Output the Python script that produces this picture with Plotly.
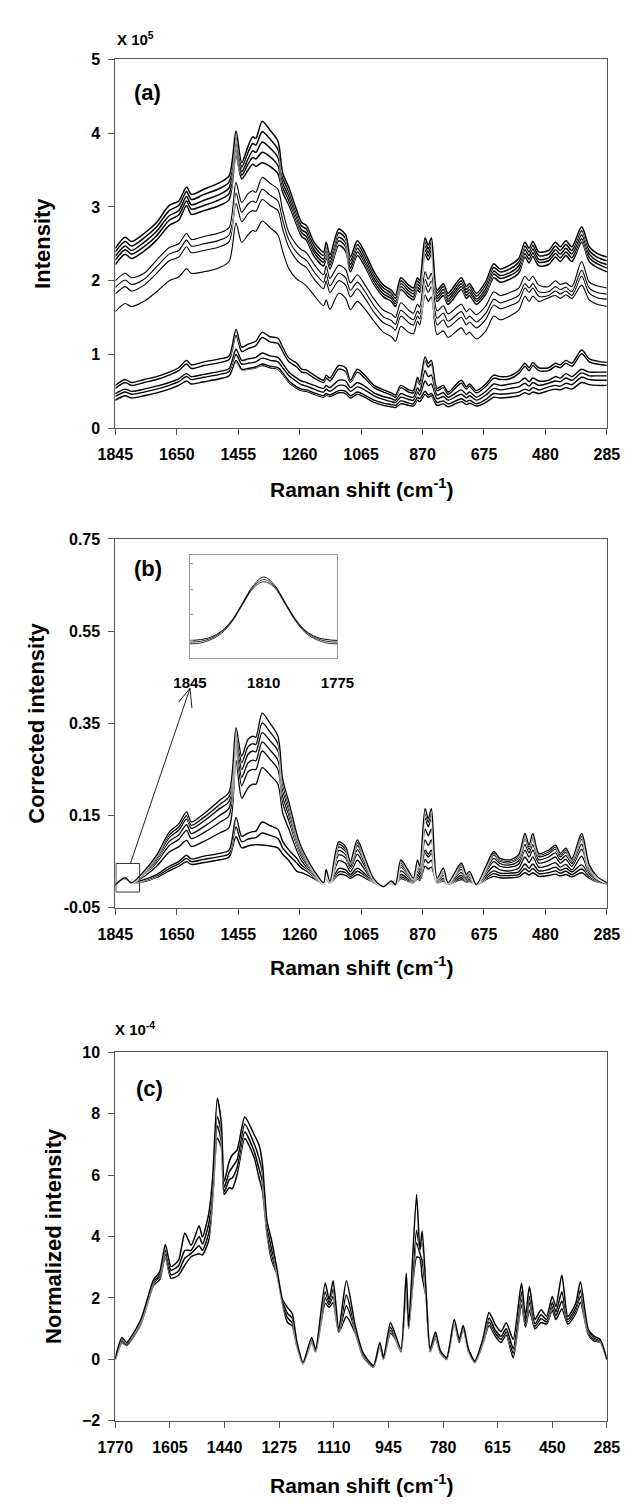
import plotly.graph_objects as go

# ---------------- DATA ----------------
# Panel (a) and (b): Raman shift grid (cm-1)
wn_ab = [1845, 1814, 1794, 1754, 1714, 1674, 1644, 1619, 1604, 1564,
         1514, 1484, 1462, 1444, 1424, 1409, 1399, 1379, 1354, 1329,
         1314, 1294, 1269, 1254, 1239, 1214, 1184, 1176, 1164, 1136,
         1114, 1099, 1077, 1054, 1024, 994, 969, 956, 939, 914,
         899, 886, 879, 862, 852, 842, 824, 804, 789, 747,
         731, 721, 699, 669, 644, 624, 593, 565, 545, 532,
         520, 501, 470, 448, 433, 415, 396, 365, 341, 316,
         285]

# Panel (a) raw intensity (x 10^5)
a_band_1 = [2.44, 2.59, 2.53, 2.64, 2.79, 3.02, 3.08, 3.27, 3.17, 3.24,
            3.33, 3.42, 4.03, 3.60, 3.82, 3.95, 3.93, 4.16, 4.04, 3.89,
            3.46, 3.26, 2.95, 2.79, 2.75, 2.52, 2.39, 2.52, 2.35, 2.70,
            2.62, 2.32, 2.54, 2.39, 2.12, 1.94, 1.87, 1.80, 2.04, 1.94,
            1.90, 2.04, 2.00, 2.58, 2.48, 2.58, 1.87, 1.96, 1.83, 2.04,
            1.92, 1.96, 1.83, 1.99, 2.23, 2.16, 2.21, 2.30, 2.52, 2.44,
            2.53, 2.39, 2.41, 2.52, 2.46, 2.54, 2.46, 2.73, 2.46, 2.37,
            2.32]
a_band_2 = [2.39, 2.53, 2.47, 2.58, 2.73, 2.95, 3.02, 3.21, 3.10, 3.17,
            3.25, 3.34, 3.95, 3.54, 3.74, 3.86, 3.84, 4.02, 3.92, 3.78,
            3.40, 3.20, 2.90, 2.74, 2.70, 2.47, 2.34, 2.47, 2.30, 2.65,
            2.57, 2.27, 2.49, 2.34, 2.08, 1.90, 1.83, 1.76, 2.00, 1.90,
            1.86, 2.00, 1.96, 2.53, 2.43, 2.53, 1.83, 1.92, 1.79, 2.00,
            1.88, 1.92, 1.79, 1.95, 2.18, 2.12, 2.16, 2.25, 2.47, 2.39,
            2.48, 2.34, 2.36, 2.47, 2.41, 2.49, 2.41, 2.68, 2.41, 2.32,
            2.27]
a_band_3 = [2.33, 2.47, 2.41, 2.52, 2.67, 2.88, 2.95, 3.14, 3.03, 3.09,
            3.17, 3.26, 3.86, 3.48, 3.65, 3.76, 3.74, 3.88, 3.80, 3.67,
            3.33, 3.14, 2.85, 2.69, 2.65, 2.42, 2.29, 2.42, 2.25, 2.59,
            2.51, 2.22, 2.44, 2.29, 2.03, 1.86, 1.79, 1.72, 1.96, 1.86,
            1.82, 1.96, 1.92, 2.47, 2.38, 2.47, 1.79, 1.88, 1.75, 1.96,
            1.84, 1.88, 1.75, 1.90, 2.13, 2.07, 2.11, 2.20, 2.42, 2.34,
            2.43, 2.29, 2.31, 2.42, 2.36, 2.44, 2.36, 2.62, 2.36, 2.27,
            2.22]
a_band_4 = [2.28, 2.42, 2.36, 2.46, 2.61, 2.82, 2.89, 3.08, 2.97, 3.02,
            3.10, 3.18, 3.78, 3.43, 3.58, 3.67, 3.65, 3.74, 3.68, 3.56,
            3.27, 3.08, 2.80, 2.65, 2.60, 2.38, 2.25, 2.38, 2.21, 2.54,
            2.46, 2.17, 2.39, 2.25, 1.99, 1.82, 1.76, 1.69, 1.92, 1.82,
            1.78, 1.92, 1.88, 2.42, 2.33, 2.42, 1.76, 1.84, 1.72, 1.92,
            1.80, 1.84, 1.72, 1.86, 2.09, 2.03, 2.07, 2.15, 2.37, 2.29,
            2.38, 2.25, 2.27, 2.37, 2.31, 2.39, 2.31, 2.57, 2.31, 2.23,
            2.17]
a_band_5 = [2.22, 2.36, 2.30, 2.40, 2.55, 2.75, 2.82, 3.02, 2.90, 2.95,
            3.02, 3.10, 3.70, 3.38, 3.50, 3.58, 3.55, 3.60, 3.55, 3.45,
            3.20, 3.02, 2.75, 2.60, 2.55, 2.33, 2.20, 2.33, 2.16, 2.48,
            2.40, 2.12, 2.34, 2.20, 1.95, 1.78, 1.72, 1.65, 1.88, 1.78,
            1.74, 1.88, 1.84, 2.36, 2.28, 2.36, 1.72, 1.80, 1.68, 1.88,
            1.76, 1.80, 1.68, 1.82, 2.04, 1.98, 2.02, 2.10, 2.32, 2.24,
            2.33, 2.20, 2.22, 2.32, 2.26, 2.34, 2.26, 2.52, 2.26, 2.18,
            2.12]
a_thin_1 = [2.00, 2.10, 2.04, 2.10, 2.28, 2.45, 2.50, 2.64, 2.56, 2.60,
            2.65, 2.72, 3.33, 3.06, 3.18, 3.22, 3.20, 3.40, 3.32, 3.24,
            2.95, 2.65, 2.48, 2.42, 2.38, 2.22, 2.08, 2.20, 2.03, 2.21,
            2.15, 1.97, 2.08, 1.95, 1.75, 1.60, 1.55, 1.50, 1.70, 1.60,
            1.56, 1.68, 1.64, 2.12, 2.02, 2.10, 1.59, 1.66, 1.55, 1.68,
            1.58, 1.62, 1.54, 1.66, 1.85, 1.80, 1.84, 1.90, 2.06, 2.00,
            2.06, 1.94, 1.92, 2.00, 1.95, 1.97, 1.92, 2.26, 1.98, 1.93,
            1.90]
a_thin_2 = [1.91, 2.01, 1.95, 2.02, 2.19, 2.36, 2.41, 2.55, 2.47, 2.50,
            2.55, 2.62, 3.19, 2.93, 3.04, 3.08, 3.06, 3.24, 3.16, 3.08,
            2.82, 2.55, 2.38, 2.32, 2.28, 2.12, 1.98, 2.10, 1.93, 2.10,
            2.04, 1.87, 1.98, 1.86, 1.66, 1.51, 1.46, 1.41, 1.60, 1.51,
            1.47, 1.59, 1.55, 2.02, 1.92, 2.00, 1.49, 1.56, 1.45, 1.58,
            1.48, 1.52, 1.44, 1.56, 1.75, 1.70, 1.74, 1.80, 1.96, 1.90,
            1.96, 1.85, 1.85, 1.92, 1.88, 1.91, 1.85, 2.14, 1.90, 1.84,
            1.82]
a_thin_3 = [1.82, 1.92, 1.86, 1.94, 2.10, 2.27, 2.32, 2.46, 2.38, 2.41,
            2.46, 2.53, 3.05, 2.80, 2.91, 2.95, 2.94, 3.10, 3.02, 2.95,
            2.70, 2.45, 2.28, 2.22, 2.18, 2.02, 1.89, 2.00, 1.84, 2.00,
            1.94, 1.78, 1.89, 1.77, 1.57, 1.43, 1.38, 1.33, 1.52, 1.43,
            1.40, 1.52, 1.48, 1.93, 1.84, 1.92, 1.40, 1.47, 1.37, 1.50,
            1.40, 1.44, 1.36, 1.48, 1.67, 1.62, 1.66, 1.72, 1.90, 1.84,
            1.90, 1.79, 1.80, 1.86, 1.82, 1.86, 1.80, 2.06, 1.83, 1.77,
            1.75]
a_thin_4 = [1.58, 1.69, 1.65, 1.72, 1.85, 2.00, 2.05, 2.16, 2.10, 2.12,
            2.18, 2.26, 2.78, 2.52, 2.62, 2.68, 2.67, 2.81, 2.72, 2.62,
            2.40, 2.16, 2.02, 1.98, 1.93, 1.80, 1.66, 1.74, 1.61, 1.83,
            1.76, 1.61, 1.72, 1.62, 1.45, 1.30, 1.24, 1.18, 1.38, 1.30,
            1.28, 1.45, 1.40, 1.81, 1.72, 1.78, 1.27, 1.32, 1.23, 1.36,
            1.27, 1.30, 1.21, 1.32, 1.52, 1.47, 1.52, 1.60, 1.79, 1.72,
            1.79, 1.72, 1.77, 1.80, 1.76, 1.81, 1.76, 1.94, 1.74, 1.68,
            1.65]
a_low_1 = [0.58, 0.66, 0.62, 0.66, 0.70, 0.76, 0.82, 0.92, 0.86, 0.90,
           0.94, 0.98, 1.34, 1.10, 1.14, 1.16, 1.18, 1.30, 1.24, 1.22,
           1.10, 0.95, 0.88, 0.80, 0.79, 0.72, 0.65, 0.72, 0.68, 0.85,
           0.82, 0.65, 0.80, 0.72, 0.58, 0.52, 0.48, 0.45, 0.58, 0.52,
           0.51, 0.69, 0.62, 0.97, 0.88, 0.92, 0.54, 0.58, 0.49, 0.65,
           0.56, 0.60, 0.51, 0.60, 0.72, 0.70, 0.71, 0.78, 0.88, 0.82,
           0.89, 0.82, 0.82, 0.88, 0.86, 0.92, 0.88, 1.06, 0.94, 0.91,
           0.89]
a_low_2 = [0.54, 0.62, 0.58, 0.62, 0.66, 0.72, 0.78, 0.87, 0.81, 0.85,
           0.89, 0.93, 1.26, 1.04, 1.08, 1.10, 1.12, 1.23, 1.17, 1.15,
           1.04, 0.90, 0.83, 0.76, 0.75, 0.68, 0.62, 0.68, 0.64, 0.80,
           0.77, 0.62, 0.76, 0.68, 0.55, 0.49, 0.45, 0.42, 0.55, 0.49,
           0.48, 0.65, 0.59, 0.92, 0.83, 0.87, 0.51, 0.55, 0.46, 0.61,
           0.53, 0.57, 0.48, 0.57, 0.68, 0.66, 0.67, 0.74, 0.84, 0.78,
           0.85, 0.78, 0.78, 0.84, 0.82, 0.88, 0.84, 1.01, 0.90, 0.87,
           0.85]
a_low_3 = [0.47, 0.53, 0.50, 0.53, 0.57, 0.62, 0.67, 0.74, 0.70, 0.73,
           0.77, 0.81, 1.07, 0.92, 0.94, 0.95, 0.96, 1.02, 0.98, 0.96,
           0.88, 0.76, 0.68, 0.64, 0.62, 0.58, 0.54, 0.58, 0.55, 0.65,
           0.64, 0.55, 0.62, 0.57, 0.48, 0.43, 0.40, 0.38, 0.47, 0.43,
           0.42, 0.55, 0.50, 0.78, 0.70, 0.72, 0.45, 0.48, 0.42, 0.52,
           0.46, 0.49, 0.42, 0.50, 0.60, 0.58, 0.60, 0.62, 0.68, 0.63,
           0.68, 0.64, 0.65, 0.70, 0.68, 0.74, 0.70, 0.80, 0.76, 0.76,
           0.76]
a_low_4 = [0.43, 0.49, 0.46, 0.49, 0.53, 0.58, 0.63, 0.70, 0.66, 0.69,
           0.73, 0.77, 1.00, 0.87, 0.88, 0.89, 0.90, 0.95, 0.92, 0.90,
           0.82, 0.71, 0.63, 0.59, 0.57, 0.53, 0.49, 0.53, 0.50, 0.58,
           0.57, 0.50, 0.56, 0.52, 0.44, 0.39, 0.36, 0.35, 0.42, 0.39,
           0.38, 0.49, 0.45, 0.64, 0.58, 0.60, 0.40, 0.43, 0.38, 0.46,
           0.41, 0.44, 0.38, 0.45, 0.54, 0.52, 0.54, 0.56, 0.61, 0.57,
           0.62, 0.58, 0.61, 0.64, 0.63, 0.68, 0.65, 0.75, 0.71, 0.71,
           0.71]
a_low_5 = [0.38, 0.44, 0.41, 0.44, 0.48, 0.53, 0.58, 0.64, 0.60, 0.63,
           0.67, 0.71, 0.92, 0.80, 0.81, 0.82, 0.83, 0.87, 0.84, 0.82,
           0.75, 0.64, 0.56, 0.53, 0.52, 0.48, 0.44, 0.47, 0.45, 0.51,
           0.50, 0.44, 0.49, 0.45, 0.38, 0.34, 0.32, 0.31, 0.37, 0.34,
           0.33, 0.42, 0.40, 0.50, 0.45, 0.47, 0.35, 0.37, 0.33, 0.40,
           0.36, 0.38, 0.33, 0.39, 0.47, 0.46, 0.47, 0.49, 0.53, 0.51,
           0.55, 0.52, 0.56, 0.58, 0.57, 0.61, 0.59, 0.69, 0.66, 0.65,
           0.65]
a_low_6 = [0.38, 0.44, 0.41, 0.44, 0.48, 0.53, 0.58, 0.64, 0.60, 0.63,
           0.67, 0.71, 0.90, 0.79, 0.80, 0.81, 0.82, 0.85, 0.82, 0.80,
           0.73, 0.62, 0.54, 0.51, 0.50, 0.46, 0.42, 0.45, 0.43, 0.48,
           0.47, 0.41, 0.46, 0.42, 0.35, 0.31, 0.29, 0.28, 0.33, 0.31,
           0.30, 0.38, 0.36, 0.46, 0.42, 0.44, 0.31, 0.33, 0.29, 0.36,
           0.32, 0.34, 0.30, 0.35, 0.42, 0.41, 0.42, 0.44, 0.48, 0.46,
           0.49, 0.47, 0.51, 0.53, 0.52, 0.55, 0.53, 0.62, 0.59, 0.58,
           0.58]

# Panel (b) baseline-corrected intensity
b_up_1 = [0.000, 0.015, 0.004, 0.029, 0.064, 0.114, 0.132, 0.158, 0.136, 0.154,
          0.183, 0.201, 0.340, 0.279, 0.315, 0.322, 0.320, 0.372, 0.350, 0.322,
          0.229, 0.179, 0.110, 0.080, 0.060, 0.030, 0.004, 0.033, 0.007, 0.093,
          0.082, 0.050, 0.097, 0.060, 0.012, -0.004, 0.008, 0.000, 0.054, 0.029,
          0.014, 0.054, 0.040, 0.165, 0.143, 0.165, 0.014, 0.036, 0.004, 0.047,
          0.022, 0.029, 0.000, 0.040, 0.072, 0.057, 0.054, 0.065, 0.111, 0.086,
          0.111, 0.068, 0.075, 0.086, 0.068, 0.079, 0.057, 0.111, 0.043, 0.018,
          0.004]
b_up_2 = [0.000, 0.015, 0.004, 0.028, 0.061, 0.108, 0.125, 0.150, 0.129, 0.146,
          0.174, 0.191, 0.329, 0.265, 0.299, 0.306, 0.304, 0.351, 0.331, 0.306,
          0.218, 0.170, 0.105, 0.076, 0.057, 0.029, 0.004, 0.032, 0.007, 0.088,
          0.077, 0.048, 0.091, 0.057, 0.012, -0.004, 0.008, 0.000, 0.051, 0.028,
          0.014, 0.051, 0.038, 0.155, 0.135, 0.155, 0.014, 0.034, 0.004, 0.045,
          0.021, 0.028, 0.000, 0.038, 0.068, 0.054, 0.051, 0.062, 0.105, 0.082,
          0.105, 0.065, 0.071, 0.082, 0.065, 0.075, 0.054, 0.105, 0.041, 0.017,
          0.004]
b_up_3 = [0.000, 0.015, 0.004, 0.026, 0.057, 0.102, 0.118, 0.142, 0.122, 0.138,
          0.165, 0.181, 0.318, 0.250, 0.283, 0.290, 0.288, 0.330, 0.312, 0.290,
          0.206, 0.161, 0.099, 0.072, 0.054, 0.027, 0.004, 0.030, 0.007, 0.082,
          0.072, 0.045, 0.085, 0.054, 0.011, -0.004, 0.007, 0.000, 0.048, 0.026,
          0.013, 0.048, 0.036, 0.145, 0.126, 0.145, 0.013, 0.032, 0.004, 0.042,
          0.020, 0.026, 0.000, 0.036, 0.064, 0.051, 0.048, 0.058, 0.099, 0.077,
          0.099, 0.061, 0.067, 0.077, 0.061, 0.070, 0.051, 0.099, 0.038, 0.016,
          0.004]
b_up_4 = [0.000, 0.015, 0.004, 0.024, 0.053, 0.094, 0.108, 0.130, 0.111, 0.126,
          0.150, 0.166, 0.307, 0.233, 0.264, 0.270, 0.269, 0.310, 0.292, 0.270,
          0.192, 0.150, 0.092, 0.066, 0.050, 0.025, 0.004, 0.027, 0.006, 0.074,
          0.065, 0.040, 0.076, 0.048, 0.010, -0.004, 0.007, 0.000, 0.043, 0.023,
          0.012, 0.043, 0.032, 0.121, 0.106, 0.121, 0.012, 0.029, 0.004, 0.038,
          0.018, 0.023, 0.000, 0.032, 0.057, 0.046, 0.043, 0.052, 0.087, 0.069,
          0.087, 0.054, 0.060, 0.069, 0.054, 0.063, 0.046, 0.088, 0.034, 0.015,
          0.004]
b_up_5 = [0.000, 0.014, 0.004, 0.022, 0.048, 0.085, 0.098, 0.118, 0.100, 0.113,
          0.135, 0.150, 0.295, 0.215, 0.245, 0.250, 0.250, 0.290, 0.272, 0.250,
          0.178, 0.138, 0.085, 0.060, 0.045, 0.022, 0.003, 0.024, 0.005, 0.065,
          0.058, 0.035, 0.066, 0.041, 0.008, -0.003, 0.006, 0.000, 0.038, 0.020,
          0.010, 0.038, 0.028, 0.097, 0.085, 0.097, 0.010, 0.025, 0.003, 0.033,
          0.015, 0.020, 0.000, 0.028, 0.050, 0.040, 0.038, 0.045, 0.075, 0.060,
          0.075, 0.047, 0.052, 0.060, 0.047, 0.055, 0.040, 0.077, 0.030, 0.013,
          0.003]
b_up_6 = [0.000, 0.014, 0.004, 0.018, 0.040, 0.071, 0.082, 0.096, 0.083, 0.094,
          0.112, 0.124, 0.270, 0.188, 0.210, 0.218, 0.218, 0.254, 0.238, 0.218,
          0.156, 0.120, 0.074, 0.052, 0.039, 0.019, 0.003, 0.021, 0.004, 0.052,
          0.046, 0.028, 0.053, 0.033, 0.006, -0.003, 0.005, 0.000, 0.030, 0.016,
          0.008, 0.030, 0.022, 0.075, 0.066, 0.075, 0.008, 0.020, 0.002, 0.026,
          0.012, 0.016, 0.000, 0.022, 0.040, 0.032, 0.030, 0.036, 0.060, 0.048,
          0.060, 0.038, 0.042, 0.048, 0.038, 0.044, 0.032, 0.062, 0.024, 0.010,
          0.002]
b_low_1 = [0.000, 0.014, 0.004, 0.011, 0.022, 0.040, 0.050, 0.064, 0.056, 0.062,
           0.068, 0.075, 0.146, 0.105, 0.112, 0.115, 0.116, 0.136, 0.128, 0.120,
           0.094, 0.075, 0.057, 0.042, 0.035, 0.020, 0.003, 0.018, 0.004, 0.035,
           0.032, 0.022, 0.036, 0.024, 0.006, -0.004, 0.004, 0.000, 0.022, 0.012,
           0.006, 0.022, 0.016, 0.070, 0.060, 0.068, 0.006, 0.014, 0.002, 0.020,
           0.010, 0.012, 0.000, 0.018, 0.030, 0.025, 0.025, 0.028, 0.045, 0.036,
           0.045, 0.030, 0.033, 0.038, 0.031, 0.036, 0.028, 0.043, 0.022, 0.010,
           0.002]
b_low_2 = [0.000, 0.014, 0.004, 0.009, 0.019, 0.035, 0.045, 0.057, 0.050, 0.055,
           0.061, 0.067, 0.125, 0.093, 0.099, 0.101, 0.102, 0.112, 0.107, 0.100,
           0.080, 0.064, 0.047, 0.036, 0.030, 0.017, 0.002, 0.015, 0.003, 0.028,
           0.026, 0.018, 0.029, 0.020, 0.005, -0.004, 0.003, 0.000, 0.017, 0.009,
           0.005, 0.017, 0.012, 0.055, 0.047, 0.053, 0.005, 0.011, 0.001, 0.015,
           0.008, 0.009, 0.000, 0.014, 0.024, 0.020, 0.020, 0.022, 0.035, 0.028,
           0.035, 0.024, 0.026, 0.030, 0.025, 0.029, 0.022, 0.034, 0.018, 0.008,
           0.002]
b_low_3 = [0.000, 0.014, 0.004, 0.007, 0.016, 0.030, 0.040, 0.050, 0.044, 0.048,
           0.054, 0.060, 0.104, 0.080, 0.084, 0.086, 0.087, 0.086, 0.084, 0.080,
           0.066, 0.052, 0.029, 0.026, 0.022, 0.013, 0.002, 0.012, 0.003, 0.022,
           0.020, 0.014, 0.022, 0.015, 0.004, -0.004, 0.003, 0.000, 0.013, 0.007,
           0.004, 0.013, 0.009, 0.040, 0.034, 0.038, 0.004, 0.008, 0.001, 0.011,
           0.006, 0.007, 0.000, 0.011, 0.018, 0.015, 0.015, 0.017, 0.026, 0.021,
           0.026, 0.018, 0.020, 0.023, 0.019, 0.022, 0.017, 0.026, 0.014, 0.006,
           0.002]

# Inset of panel (b): 1845-1775 cm-1
wn_inset = [1845, 1840, 1835, 1830, 1825, 1820, 1815, 1810, 1805, 1800, 1795, 1790, 1785, 1780, 1775]
inset_1 = [0.0000, 0.0002, 0.0008, 0.0022, 0.0048, 0.0088, 0.0128, 0.0148, 0.0130, 0.0090, 0.0050, 0.0022, 0.0008, 0.0002, 0.0000]
inset_2 = [-0.0004, -0.0002, 0.0005, 0.0020, 0.0046, 0.0086, 0.0125, 0.0142, 0.0127, 0.0088, 0.0048, 0.0020, 0.0005, -0.0002, -0.0004]
inset_3 = [-0.0008, -0.0006, 0.0002, 0.0017, 0.0044, 0.0084, 0.0122, 0.0137, 0.0124, 0.0086, 0.0046, 0.0017, 0.0002, -0.0006, -0.0008]

# Panel (c) normalized intensity (x 10^-4)
wn_c = [1770, 1750, 1736, 1693, 1655, 1636, 1619, 1602, 1579, 1560,
        1541, 1517, 1507, 1488, 1476, 1462, 1450, 1441, 1426, 1417,
        1402, 1379, 1350, 1336, 1326, 1312, 1298, 1283, 1265, 1250,
        1236, 1222, 1203, 1177, 1165, 1136, 1124, 1112, 1095, 1072,
        1045, 1022, 990, 971, 960, 939, 926, 907, 891, 884,
        860, 850, 843, 831, 819, 803, 788, 769, 746, 731,
        719, 703, 684, 660, 641, 622, 605, 589, 568, 543,
        531, 519, 502, 484, 467, 450, 439, 421, 403, 379,
        365, 341, 323, 305, 285]
c_1 = [0.05, 0.71, 0.55, 1.30, 2.58, 2.85, 3.74, 3.02, 3.23, 4.11,
       3.71, 4.35, 3.98, 4.73, 5.91, 8.50, 7.70, 5.80, 6.44, 6.65,
       6.82, 7.89, 7.30, 6.98, 6.40, 4.51, 3.87, 3.02, 1.95, 1.69,
       1.50, 0.60, -0.10, 0.71, 0.33, 2.49, 1.94, 2.56, 0.98, 2.56,
       1.08, 0.22, -0.20, 0.55, 0.06, 1.19, 0.87, 0.33, 2.80, 1.08,
       5.37, 3.55, 4.19, 2.16, 0.33, 0.89, 0.28, 0.06, 1.30, 0.65,
       1.10, 0.33, -0.05, 0.65, 1.53, 1.13, 0.90, 1.19, 0.65, 2.48,
       1.40, 2.37, 1.30, 1.62, 1.40, 2.05, 1.72, 2.75, 1.40, 1.83,
       2.53, 0.97, 0.75, 0.65, 0.00]
c_2 = [0.03, 0.66, 0.52, 1.25, 2.52, 2.78, 3.55, 2.90, 3.05, 3.55,
       3.55, 4.00, 3.75, 4.40, 5.60, 7.90, 7.40, 5.60, 6.10, 6.25,
       6.50, 7.65, 7.00, 6.55, 6.10, 4.35, 3.60, 2.95, 1.90, 1.50,
       1.35, 0.55, -0.12, 0.65, 0.30, 2.20, 1.85, 2.30, 0.94, 2.10,
       0.98, 0.17, -0.22, 0.50, 0.03, 1.05, 0.80, 0.30, 2.70, 1.05,
       4.20, 3.60, 3.80, 2.10, 0.30, 0.80, 0.25, 0.03, 1.22, 0.60,
       1.05, 0.30, -0.07, 0.58, 1.35, 0.95, 0.75, 1.00, 0.35, 2.20,
       1.25, 2.05, 1.15, 1.45, 1.30, 1.85, 1.55, 2.20, 1.30, 1.70,
       2.25, 0.90, 0.70, 0.60, 0.00]
c_3 = [0.02, 0.60, 0.48, 1.20, 2.46, 2.70, 3.45, 2.75, 2.88, 3.30,
       3.45, 3.70, 3.55, 4.10, 5.40, 7.60, 7.10, 5.45, 5.85, 5.90,
       6.25, 7.40, 6.75, 6.20, 5.80, 4.20, 3.40, 2.88, 1.85, 1.35,
       1.20, 0.50, -0.13, 0.60, 0.28, 2.00, 1.78, 2.05, 0.90, 1.75,
       0.92, 0.13, -0.23, 0.48, 0.02, 0.95, 0.75, 0.28, 2.60, 1.02,
       3.80, 3.45, 3.20, 2.05, 0.28, 0.75, 0.22, 0.02, 1.18, 0.58,
       1.02, 0.28, -0.08, 0.54, 1.22, 0.85, 0.65, 0.90, 0.20, 2.00,
       1.15, 1.85, 1.08, 1.32, 1.22, 1.72, 1.42, 1.90, 1.22, 1.60,
       2.05, 0.85, 0.65, 0.58, 0.00]
c_4 = [0.00, 0.55, 0.45, 1.15, 2.40, 2.60, 3.35, 2.64, 2.74, 3.07,
       3.34, 3.44, 3.40, 3.87, 5.20, 7.20, 6.90, 5.37, 5.59, 5.55,
       6.02, 7.19, 6.55, 5.91, 5.50, 4.10, 3.23, 2.80, 1.80, 1.20,
       1.10, 0.45, -0.15, 0.55, 0.25, 1.83, 1.70, 1.85, 0.88, 1.40,
       0.85, 0.10, -0.25, 0.45, 0.00, 0.85, 0.70, 0.25, 2.50, 1.00,
       3.33, 3.30, 2.69, 2.00, 0.25, 0.70, 0.20, 0.00, 1.15, 0.55,
       1.00, 0.25, -0.10, 0.50, 1.10, 0.75, 0.55, 0.80, 0.05, 1.80,
       1.05, 1.60, 1.00, 1.20, 1.15, 1.60, 1.30, 1.65, 1.15, 1.50,
       1.85, 0.80, 0.60, 0.55, 0.00]

# Tick values
ab_xticks = [1845, 1650, 1455, 1260, 1065, 870, 675, 480, 285]
a_yticks = [0, 1, 2, 3, 4, 5]
b_yticks = [-0.05, 0.15, 0.35, 0.55, 0.75]
b_yticktext = ["-0.05", "0.15", "0.35", "0.55", "0.75"]
c_xticks = [1770, 1605, 1440, 1275, 1110, 945, 780, 615, 450, 285]
c_yticks = [-2, 0, 2, 4, 6, 8, 10]
inset_xticks = [1845, 1810, 1775]

# ---------------- FIGURE ----------------
W, H = 639, 1507
FONT = "Liberation Sans, Arial, Helvetica, sans-serif"


def px(x):
    return x / W


def py(y):
    return 1 - y / H


fig = go.Figure()


def add_family(x, series, xa, ya, width=1.2, halo=2.4, smooth=0.8):
    for s in series:
        assert len(s) == len(x)
        fig.add_trace(go.Scatter(x=x, y=s, mode="lines", xaxis=xa, yaxis=ya,
                                 line=dict(color="white", width=halo, shape="spline", smoothing=smooth),
                                 showlegend=False, hoverinfo="skip"))
        fig.add_trace(go.Scatter(x=x, y=s, mode="lines", xaxis=xa, yaxis=ya,
                                 line=dict(color="black", width=width, shape="spline", smoothing=smooth),
                                 showlegend=False, hoverinfo="skip"))


add_family(wn_ab, [a_low_6, a_low_5, a_low_4, a_low_3, a_low_2, a_low_1], "x", "y", 1.4, 2.2)
add_family(wn_ab, [a_thin_4, a_thin_3, a_thin_2, a_thin_1], "x", "y", 1.1, 2.4)
add_family(wn_ab, [a_band_5, a_band_4, a_band_3, a_band_2, a_band_1], "x", "y", 1.5, 2.2)

add_family(wn_ab, [b_low_3, b_low_2, b_low_1], "x2", "y2", 1.4, 2.2)
add_family(wn_ab, [b_up_6, b_up_5, b_up_4, b_up_3, b_up_2, b_up_1], "x2", "y2", 1.3, 2.2)

add_family(wn_c, [c_4, c_3, c_2, c_1], "x3", "y3", 1.5, 2.0, 0.6)

for s, w in [(inset_3, 0.8), (inset_2, 0.8), (inset_1, 1.0)]:
    fig.add_trace(go.Scatter(x=wn_inset, y=s, mode="lines", xaxis="x4", yaxis="y4",
                             line=dict(color="black", width=w, shape="spline"),
                             showlegend=False, hoverinfo="skip"))

XD = [px(103), px(623)]
dom_a = [py(425), py(52)]
dom_b = [py(910), py(537)]
dom_c = [py(1429), py(1056)]

tickfont = dict(family=FONT, size=16, color="black", weight="bold")
axcol = "#555555"
common_x = dict(showline=True, linecolor=axcol, linewidth=1, mirror=True, ticks="outside",
                ticklen=6, tickcolor=axcol, tickfont=tickfont, showgrid=False, zeroline=False,
                ticklabelstandoff=6)
common_y = dict(showline=True, linecolor=axcol, linewidth=1, mirror=True, ticks="outside",
                ticklen=6, tickcolor=axcol, tickfont=tickfont, showgrid=False, zeroline=False,
                ticklabelstandoff=5)

fig.update_layout(
    width=W, height=H, margin=dict(l=0, r=0, t=0, b=0),
    paper_bgcolor="white", plot_bgcolor="white", showlegend=False,
    xaxis=dict(domain=XD, anchor="y", range=[1845, 285], tickmode="array", tickvals=ab_xticks, **common_x),
    yaxis=dict(domain=dom_a, anchor="x", range=[0, 5], tickmode="array", tickvals=a_yticks, **common_y),
    xaxis2=dict(domain=XD, anchor="y2", range=[1845, 285], tickmode="array", tickvals=ab_xticks, **common_x),
    yaxis2=dict(domain=dom_b, anchor="x2", range=[-0.05, 0.75], tickmode="array", tickvals=b_yticks,
                ticktext=b_yticktext, **common_y),
    xaxis3=dict(domain=XD, anchor="y3", range=[1770, 285], tickmode="array", tickvals=c_xticks, **common_x),
    yaxis3=dict(domain=dom_c, anchor="x3", range=[-2, 10], tickmode="array", tickvals=c_yticks, **common_y),
    xaxis4=dict(domain=[px(182), px(338)], anchor="y4", range=[1845, 1775], tickmode="array",
                tickvals=inset_xticks, showline=True, linecolor="#999999", mirror=True, ticks="",
                tickfont=dict(family=FONT, size=15, color="black", weight="bold"), showgrid=False,
                zeroline=False, ticklabelstandoff=11),
    yaxis4=dict(domain=[py(657), py(553)], anchor="x4", range=[-0.004, 0.02], showline=True,
                linecolor="#999999", mirror=True, ticks="inside", ticklen=3, tickcolor="#999999",
                tickmode="array", tickvals=[0.0, 0.006, 0.012, 0.018], showticklabels=False,
                showgrid=False, zeroline=False),
)

ann = []


def text(x, y, t, size, xanchor="center", angle=0):
    ann.append(dict(x=px(x), y=py(y), xref="paper", yref="paper", text=t, showarrow=False,
                    xanchor=xanchor, yanchor="middle", textangle=angle,
                    font=dict(family=FONT, size=size, color="black", weight="bold")))


# panel (a)
text(103, 31, "X 10<sup>5</sup>", 15, "left")
text(121, 85, "(a)", 22, "left")
text(26, 238, "Intensity", 22, angle=-90)
text(363, 485, "Raman shift (cm<sup>-1</sup>)", 21)
# panel (b)
text(121, 567, "(b)", 22, "left")
text(20, 723, "Corrected intensity", 22, angle=-90)
text(363, 969, "Raman shift (cm<sup>-1</sup>)", 21)
# panel (c)
text(100, 1032, "X 10<sup>-4</sup>", 15, "left")
text(123, 1093, "(c)", 22, "left")
text(38, 1242, "Normalized intensity", 22, angle=-90)
text(363, 1493, "Raman shift (cm<sup>-1</sup>)", 21)

fig.update_layout(annotations=ann)

# zoom box and arrow in panel (b)
fig.add_shape(type="rect", xref="x2", yref="y2", x0=1843, x1=1768, y0=-0.016, y1=0.046,
              line=dict(color="#333333", width=1))
tip = (182, 688)
for (xa, ya) in [(119, 865), (170, 702), (184, 708)]:
    fig.add_shape(type="line", xref="paper", yref="paper", x0=px(xa), y0=py(ya), x1=px(tip[0]), y1=py(tip[1]),
                  line=dict(color="#222222", width=1))

fig.write_html("out.html")
